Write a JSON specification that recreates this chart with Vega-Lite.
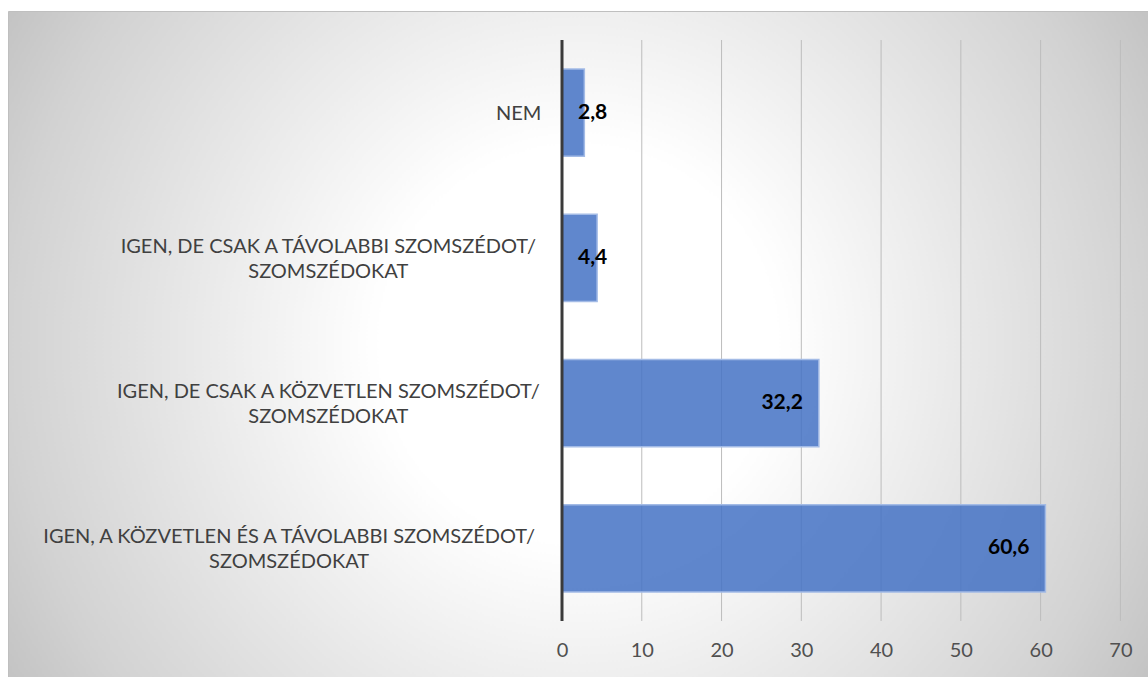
{
  "$schema": "https://vega.github.io/schema/vega-lite/v6.json",
  "width": 1140,
  "height": 666,
  "autosize": {"type": "none"},
  "padding": {"left": 8, "top": 11, "right": 0, "bottom": 0},
  "background": "#ffffff",
  "view": {
    "fill": {
      "gradient": "radial",
      "x1": 0.5, "y1": 0.5, "r1": 0,
      "x2": 0.5, "y2": 0.5, "r2": 0.58,
      "stops": [
        {"offset": 0, "color": "#ffffff"},
        {"offset": 0.3, "color": "#ffffff"},
        {"offset": 0.86, "color": "#d2d2d2"},
        {"offset": 1, "color": "#c3c3c3"}
      ]
    },
    "stroke": "#bfbfbf",
    "strokeWidth": 1
  },
  "config": {
    "font": "Lato",
    "locale": {"number": {"decimal": ",", "thousands": " ", "grouping": [3], "currency": ["", " Ft"]}},
    "axisX": {
      "title": null,
      "orient": "bottom",
      "offset": -56,
      "format": "d",
      "domain": false,
      "ticks": false,
      "grid": false,
      "labelExpr": "datum.value >= 0 && datum.value % 10 === 0 ? datum.label : ''",
      "labelFont": "Lato",
      "labelFontSize": 20,
      "labelColor": "#505050",
      "labelPadding": 29,
      "labelBaseline": "middle",
      "labelFlush": false,
      "labelOverlap": false
    }
  },
  "datasets": {
    "racs": [
      {"osztas": 10}, {"osztas": 20}, {"osztas": 30}, {"osztas": 40},
      {"osztas": 50}, {"osztas": 60}, {"osztas": 70}
    ]
  },
  "data": {
    "values": [
      {"valasz": "NEM", "ertek": 2.8},
      {"valasz": "IGEN, DE CSAK A TÁVOLABBI SZOMSZÉDOT/SZOMSZÉDOKAT", "ertek": 4.4},
      {"valasz": "IGEN, DE CSAK A KÖZVETLEN SZOMSZÉDOT/SZOMSZÉDOKAT", "ertek": 32.2},
      {"valasz": "IGEN, A KÖZVETLEN ÉS A TÁVOLABBI SZOMSZÉDOT/SZOMSZÉDOKAT", "ertek": 60.6}
    ]
  },
  "encoding": {
    "y": {
      "field": "valasz",
      "type": "nominal",
      "sort": null,
      "scale": {
        "domain": [
          "NEM",
          "IGEN, DE CSAK A TÁVOLABBI SZOMSZÉDOT/SZOMSZÉDOKAT",
          "IGEN, DE CSAK A KÖZVETLEN SZOMSZÉDOT/SZOMSZÉDOKAT",
          "IGEN, A KÖZVETLEN ÉS A TÁVOLABBI SZOMSZÉDOT/SZOMSZÉDOKAT"
        ],
        "range": [29, 610],
        "paddingInner": 0.4,
        "paddingOuter": 0.2
      },
      "axis": {
        "title": null,
        "orient": "left",
        "offset": -527,
        "domain": false,
        "ticks": false,
        "grid": false,
        "labelPadding": 0,
        "labelFont": "Lato",
        "labelFontSize": 20,
        "labelColor": "#404040",
        "labelAlign": "center",
        "labelBaseline": "middle",
        "labelLineHeight": 25,
        "labelLimit": 1000,
        "labelOverlap": false,
        "labelExpr": "indexof(datum.label, '/') >= 0 ? [slice(datum.label, 0, indexof(datum.label, '/') + 1), slice(datum.label, indexof(datum.label, '/') + 1)] : datum.label",
        "encoding": {
          "labels": {
            "dx": {"value": {"expr": "-5.6 * (indexof(datum.value, '/') >= 0 ? indexof(datum.value, '/') + 1 : length(datum.value))"}},
            "dy": {"value": {"expr": "indexof(datum.value, '/') >= 0 ? -11 : 1"}}
          }
        }
      }
    }
  },
  "layer": [
    {
      "data": {"name": "racs"},
      "mark": {"type": "rule", "color": "#bcbcbc", "strokeWidth": 1},
      "encoding": {
        "x": {"field": "osztas", "type": "quantitative", "title": null},
        "y": {"datum": "NEM", "bandPosition": -0.333},
        "y2": {"datum": "IGEN, A KÖZVETLEN ÉS A TÁVOLABBI SZOMSZÉDOT/SZOMSZÉDOKAT", "bandPosition": 1.333}
      }
    },
    {
      "mark": {"type": "bar", "fill": "#4472C4", "fillOpacity": 0.85, "stroke": "#a3bbe6", "strokeWidth": 1.5},
      "encoding": {
        "x": {
          "field": "ertek",
          "type": "quantitative",
          "title": null,
          "scale": {"domain": [-69.45, 73.46], "nice": false, "zero": false}
        }
      }
    },
    {
      "transform": [{"filter": "datum.ertek >= 10"}],
      "mark": {"type": "text", "align": "right", "baseline": "middle", "dx": -16, "font": "Lato", "fontWeight": "bold", "fontSize": 21, "color": "#000000"},
      "encoding": {
        "x": {"field": "ertek", "type": "quantitative", "title": null},
        "text": {"field": "ertek", "type": "quantitative", "format": ".1f"}
      }
    },
    {
      "transform": [{"filter": "datum.ertek < 10"}],
      "mark": {"type": "text", "align": "left", "baseline": "middle", "dx": 16, "font": "Lato", "fontWeight": "bold", "fontSize": 21, "color": "#000000"},
      "encoding": {
        "x": {"datum": 0, "type": "quantitative", "title": null},
        "text": {"field": "ertek", "type": "quantitative", "format": ".1f"}
      }
    },
    {
      "data": {"values": [{"tengely": 0}]},
      "mark": {"type": "rule", "color": "#3a3a3a", "strokeWidth": 3},
      "encoding": {
        "x": {"field": "tengely", "type": "quantitative", "title": null},
        "y": {"datum": "NEM", "bandPosition": -0.333},
        "y2": {"datum": "IGEN, A KÖZVETLEN ÉS A TÁVOLABBI SZOMSZÉDOT/SZOMSZÉDOKAT", "bandPosition": 1.333}
      }
    }
  ]
}
